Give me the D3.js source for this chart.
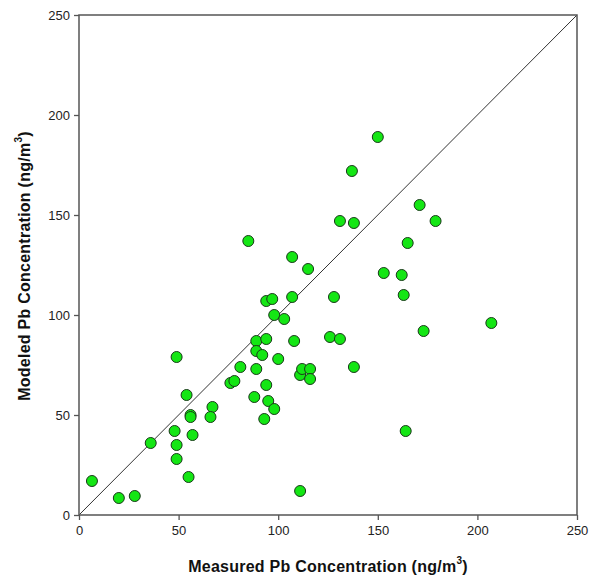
<!DOCTYPE html>
<html>
<head>
<meta charset="utf-8">
<script src="https://cdn.jsdelivr.net/npm/d3@7"></script>
<style>
  html, body { margin: 0; padding: 0; background: #fff; }
  svg { display: block; font-family: Arial, "Liberation Sans", sans-serif; }
</style>
</head>
<body>
<svg id="chart" width="590" height="578"></svg>
<script>
// Measured vs modeled Pb concentration (ng/m3) per site
const measured = [85, 107, 115, 150, 137, 171, 131, 138, 179, 165, 153, 162, 128, 163, 207, 173, 126, 131, 138, 164,
  94, 97, 107, 98, 103, 89, 94, 108, 89, 92, 100, 49, 81, 76, 78, 89, 94, 111, 112, 116, 116,
  54, 67, 66, 56, 56, 88, 95, 98, 93, 48, 57, 36, 49, 49, 55, 6.5, 20, 28, 111];
const modeled = [137, 129, 123, 189, 172, 155, 147, 146, 147, 136, 121, 120, 109, 110, 96, 92, 89, 88, 74, 42,
  107, 108, 109, 100, 98, 87, 88, 87, 82, 80, 78, 79, 74, 66, 67, 73, 65, 70, 73, 73, 68,
  60, 54, 49, 50, 49, 59, 57, 53, 48, 42, 40, 36, 35, 28, 19, 17, 8.5, 9.5, 12];
const xTicks = [0, 50, 100, 150, 200, 250];
const yTicks = [0, 50, 100, 150, 200, 250];

const svg = d3.select("#chart");
const plotLeft = 79, plotRight = 577, plotTop = 15, plotBottom = 515;

const x = d3.scaleLinear().domain([0, 250]).range([plotLeft, plotRight]);
const y = d3.scaleLinear().domain([0, 250]).range([plotBottom, plotTop]);

const axisColor = "#555";

// 1:1 reference line
svg.append("line")
  .attr("x1", x(0)).attr("y1", y(0))
  .attr("x2", x(250)).attr("y2", y(250))
  .attr("stroke", "#333").attr("stroke-width", 1);

// bottom axis
const gx = svg.append("g").attr("transform", `translate(0,${plotBottom})`)
  .call(d3.axisBottom(x).tickValues(xTicks).tickSize(5).tickPadding(6));
// left axis
const gy = svg.append("g").attr("transform", `translate(${plotLeft},0)`)
  .call(d3.axisLeft(y).tickValues(yTicks).tickSize(5).tickPadding(4));

[gx, gy].forEach(g => {
  g.select(".domain").remove();
  g.selectAll(".tick line").attr("stroke", axisColor).attr("stroke-width", 1.3);
  g.selectAll(".tick text").attr("fill", "#222").style("font-size", "13px")
    .style("font-family", "Arial, 'Liberation Sans', sans-serif");
});

// frame
svg.append("rect")
  .attr("x", plotLeft).attr("y", plotTop)
  .attr("width", plotRight - plotLeft).attr("height", plotBottom - plotTop)
  .attr("fill", "none").attr("stroke", axisColor).attr("stroke-width", 1.5);

// points
svg.append("g").selectAll("circle")
  .data(measured.map((m, i) => [m, modeled[i]]))
  .join("circle")
  .attr("cx", d => x(d[0]))
  .attr("cy", d => y(d[1]))
  .attr("r", 5.5)
  .attr("fill", "#14e614")
  .attr("stroke", "#1a3a1a")
  .attr("stroke-width", 1);

// axis titles
const xt = svg.append("text")
  .attr("x", (plotLeft + plotRight) / 2) .attr("y", 572)
  .attr("text-anchor", "middle")
  .attr("font-weight", "bold").attr("font-size", 16).attr("letter-spacing", 0.25).attr("fill", "#111");
xt.append("tspan").text("Measured Pb Concentration (ng/m");
xt.append("tspan").attr("font-size", 10).attr("dy", -8).text("3");
xt.append("tspan").attr("dy", 8).text(")");

const yt = svg.append("text")
  .attr("transform", `translate(30,${(plotTop + plotBottom) / 2 + 1}) rotate(-90)`)
  .attr("text-anchor", "middle")
  .attr("font-weight", "bold").attr("font-size", 16).attr("letter-spacing", 0.25).attr("fill", "#111");
yt.append("tspan").text("Modeled Pb Concentration (ng/m");
yt.append("tspan").attr("font-size", 10).attr("dy", -8).text("3");
yt.append("tspan").attr("dy", 8).text(")");
</script>
</body>
</html>
